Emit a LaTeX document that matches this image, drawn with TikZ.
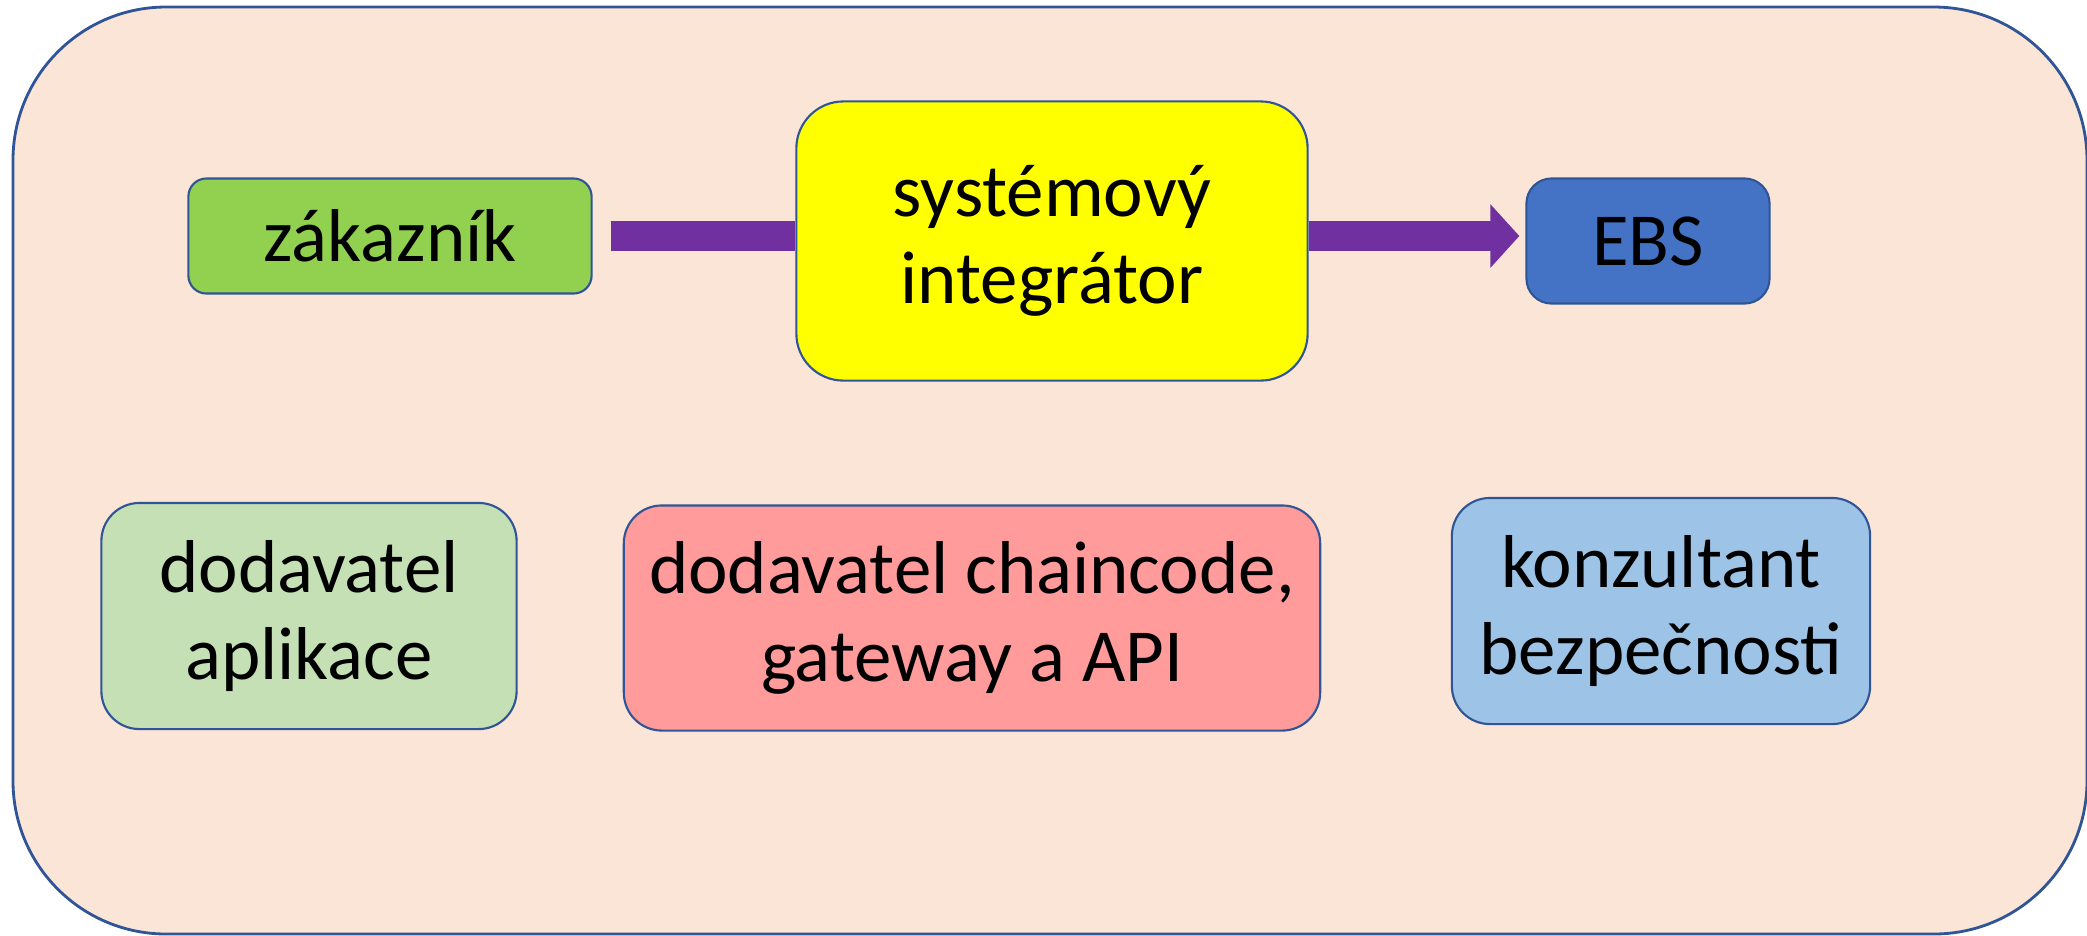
\documentclass[tikz,border=0pt]{standalone}
\usepackage{fontspec}
\setmainfont{Carlito}
\usetikzlibrary{arrows.meta}
\definecolor{bgpeach}{HTML}{FBE5D6}
\definecolor{edgeblue}{HTML}{2F5597}
\definecolor{zakgreen}{HTML}{92D050}
\definecolor{sysyellow}{HTML}{FFFF00}
\definecolor{ebsblue}{HTML}{4472C4}
\definecolor{appgreen}{HTML}{C5E0B4}
\definecolor{chainred}{HTML}{FF9B9B}
\definecolor{konzblue}{HTML}{9DC3E6}
\definecolor{barpurple}{HTML}{7030A0}
\begin{document}
\begin{tikzpicture}[x=0.01cm,y=-0.01cm,
    role/.style={draw=edgeblue, line width=0.6pt, align=center, inner sep=0pt,
      font=\fontsize{21.3}{24.8}\selectfont},
    bar/.style={draw=barpurple, line width=0.3cm}]
  \useasboundingbox (0,0) rectangle (2087,935);
  \clip (0,0) rectangle (2087,935);
  % podklad
  \draw[fill=bgpeach, draw=edgeblue, line width=0.8pt, rounded corners=1.53cm] (13,7) rectangle (2087,934);
  % horni rada
  \node[role, fill=zakgreen, minimum width=4.03cm, minimum height=1.15cm, rounded corners=0.18cm] (zak) at (390,236) {z\'akazn\'ik};
  \node[role, fill=sysyellow, minimum width=5.11cm, minimum height=2.79cm, rounded corners=0.47cm] (sys) at (1052,241) {syst\'emov\'y\\integr\'ator};
  \node[role, fill=ebsblue, minimum width=2.43cm, minimum height=1.25cm, rounded corners=0.25cm] (ebs) at (1648,241) {EBS};
  % dolni rada
  \node[role, fill=appgreen, minimum width=4.15cm, minimum height=2.26cm, rounded corners=0.38cm] (app) at (309,616) {dodavatel\\aplikace};
  \node[role, fill=chainred, minimum width=6.96cm, minimum height=2.25cm, rounded corners=0.38cm] (chain) at (972,618) {dodavatel chaincode,\\gateway a API};
  \node[role, fill=konzblue, minimum width=4.18cm, minimum height=2.26cm, rounded corners=0.38cm] (konz) at (1661,611) {konzultant\\bezpe\v{c}nosti};
  % sipky
  \draw[bar] ([xshift=0.18cm]zak.east) -- (zak.east -| sys.west);
  \draw[bar, -{Triangle[length=0.29cm, width=0.62cm]}, shorten >=0.06cm] (sys.east |- zak.east) -- (ebs.west |- zak.east);
\end{tikzpicture}
\end{document}
